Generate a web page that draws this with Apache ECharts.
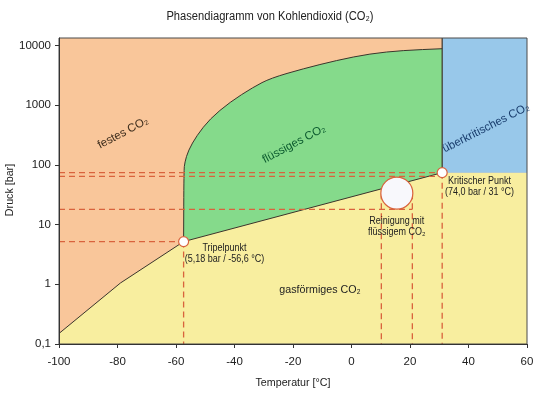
<!DOCTYPE html>
<html><head><meta charset="utf-8">
<script src="https://cdn.jsdelivr.net/npm/echarts@6/dist/echarts.min.js"></script>
<style>html,body{margin:0;padding:0;background:#fff}#c{width:540px;height:393px}</style>
</head><body><div id="c"></div>
<script>
// ---- axes ----
const xMin = -100, xMax = 60, xStep = 20;
const yMin = 0.1, yMax = 13300;

// ---- phase boundaries (temperature °C, pressure bar) ----
const sublT = [-100, -79, -57.4];
const sublP = [0.15, 1.05, 5.18];
const vapT = [-57.4, 31];
const vapP = [5.18, 74];
const meltT = [-57.4, -57.3, -57.0, -55.8, -52.9, -48.4, -41.6, -33.6, -27.6, -16.5, -5.1, 6.3, 17.6, 31];
const meltP = [5.18, 80, 110, 174, 309, 590, 1120, 2000, 2830, 4070, 5610, 7260, 8250, 8800];
const tripleT = -57.4, tripleP = 5.18;
const critT = 31, critP = 74;

// ---- cleaning range and reference lines ----
const cleanT = [10.2, 20.8];
const cleanCenterT = 15.5, cleanCenterP = 33.5;
const hLevels = [74, 64, 18];
const hEnds = [31, 31, 20.8];

const FONT = '"Liberation Sans", Arial, sans-serif';
const C_SOLID = '#F9C69A', C_LIQ = '#85DA8B', C_GAS = '#F8EE9F', C_SUP = '#98C8EA';
const C_DASH = '#D9633D', C_LINE = '#3b352c';

function zip(a, b) { return a.map((v, i) => [v, b[i]]); }
function mid(a, b) { return [(a[0] + b[0]) / 2, (a[1] + b[1]) / 2]; }
function smoothD(px) {
  let d = 'M' + px[0][0] + ',' + px[0][1];
  let m = mid(px[0], px[1]);
  d += ' L' + m[0] + ',' + m[1];
  for (let i = 1; i < px.length - 1; i++) {
    const m2 = mid(px[i], px[i + 1]);
    d += ' Q' + px[i][0] + ',' + px[i][1] + ' ' + m2[0] + ',' + m2[1];
  }
  const l = px[px.length - 1];
  d += ' L' + l[0] + ',' + l[1];
  return d;
}

function renderRegions(params, api) {
  const c = p => api.coord(p);
  const children = [];
  children.push({type: 'polygon', shape: {points: [[xMin, yMin], [xMax, yMin], [xMax, yMax], [xMin, yMax]].map(c)}, style: {fill: C_SOLID}});
  const gas = zip(sublT, sublP).concat([[critT, critP], [xMax, critP], [xMax, yMin], [xMin, yMin]]);
  children.push({type: 'polygon', shape: {points: gas.map(c)}, style: {fill: C_GAS}});
  children.push({type: 'polygon', shape: {points: [[critT, critP], [xMax, critP], [xMax, yMax], [critT, yMax]].map(c)}, style: {fill: C_SUP}});
  const meltPx = zip(meltT, meltP).map(c);
  const cp = c([critT, critP]);
  const liqD = smoothD(meltPx) + ' L' + cp[0] + ',' + cp[1] + ' Z';
  children.push({type: 'path', shape: {pathData: liqD}, style: {fill: C_LIQ}});
  children.push({type: 'polyline', shape: {points: zip(sublT, sublP).map(c)}, style: {stroke: C_LINE, lineWidth: 1, fill: null}});
  children.push({type: 'polyline', shape: {points: zip(vapT, vapP).map(c)}, style: {stroke: C_LINE, lineWidth: 1, fill: null}});
  children.push({type: 'path', shape: {pathData: smoothD(meltPx)}, style: {stroke: C_LINE, lineWidth: 1, fill: null}});
  const a = c([critT, critP]), b = c([critT, yMax]);
  children.push({type: 'line', shape: {x1: a[0], y1: a[1], x2: b[0], y2: b[1]}, style: {stroke: C_LINE, lineWidth: 1.2}});
  const segs = [];
  hLevels.forEach((p, i) => segs.push([[xMin, p], [hEnds[i], p]]));
  segs.push([[xMin, tripleP], [tripleT, tripleP]]);
  segs.push([[tripleT, tripleP], [tripleT, yMin]]);
  cleanT.forEach(t => segs.push([[t, cleanCenterP], [t, yMin]]));
  segs.push([[critT, critP], [critT, yMin]]);
  segs.forEach(s => {
    const p1 = c(s[0]), p2 = c(s[1]);
    children.push({type: 'line', shape: {x1: p1[0], y1: p1[1], x2: p2[0], y2: p2[1]}, style: {stroke: C_DASH, lineWidth: 1.3, lineDash: [6, 4]}});
  });
  const tl = c([xMin, yMax]), br = c([xMax, yMin]);
  children.push({type: 'rect', shape: {x: tl[0], y: tl[1], width: br[0] - tl[0], height: br[1] - tl[1]}, style: {stroke: '#4a4a4a', lineWidth: 1, fill: null}});
  return {type: 'group', children};
}

function txt(text, x, y, size, color, rot, sx) {
  return {type: 'text', x, y, z: 100, rotation: (rot || 0) * Math.PI / 180, scaleX: sx || 1,
    style: {text, fontSize: size, fontFamily: FONT, fill: color, align: 'center', verticalAlign: 'middle'}};
}

const chart = echarts.init(document.getElementById('c'));
chart.setOption({
  animation: false,
  grid: {left: 59, right: 13, top: 38, bottom: 49},
  xAxis: {
    type: 'value', min: xMin, max: xMax, interval: xStep, z: 10,
    axisLine: {show: true, onZero: false, lineStyle: {color: '#333', width: 1}},
    axisTick: {show: true, length: 4, lineStyle: {color: '#333'}},
    axisLabel: {fontSize: 11.5, color: '#222', margin: 12, fontFamily: FONT},
    splitLine: {show: false}
  },
  yAxis: {
    type: 'log', logBase: 10, min: yMin, max: yMax, z: 10,
    axisLine: {show: true, onZero: false, lineStyle: {color: '#333', width: 1}},
    axisTick: {show: true, length: 4, lineStyle: {color: '#333'}},
    axisLabel: {fontSize: 11.5, color: '#222', margin: 8, fontFamily: FONT, showMaxLabel: false,
      formatter: v => String(+v.toPrecision(6)).replace('.', ',')},
    splitLine: {show: false}
  },
  series: [
    {type: 'custom', coordinateSystem: 'cartesian2d', data: [[-50, 1]], renderItem: renderRegions, silent: true, z: 2},
    {type: 'scatter', z: 5, symbol: 'circle', symbolSize: 32, data: [[cleanCenterT, cleanCenterP]],
      itemStyle: {color: '#f8f8fc', borderColor: C_DASH, borderWidth: 1.2, opacity: 1}},
    {type: 'scatter', z: 5, symbol: 'circle', symbolSize: 10, data: [[tripleT, tripleP], [critT, critP]],
      itemStyle: {color: '#ffffff', borderColor: C_DASH, borderWidth: 1.2, opacity: 1}}
  ],
  graphic: [
    txt('Phasendiagramm von Kohlendioxid (CO₂)', 270, 17, 12, '#222', 0, 0.93),
    txt('Temperatur [°C]', 293, 383, 11.5, '#222', 0, 0.93),
    txt('Druck [bar]', 10, 190, 11.5, '#222', 90, 0.93),
    txt('festes CO₂', 123, 133, 11.5, '#3a2a1a', 28),
    txt('flüssiges CO₂', 294, 144, 11.5, '#0b5a2e', 28),
    txt('überkritisches CO₂', 486, 128, 11.5, '#1a3e6e', 27),
    txt('gasförmiges CO₂', 320, 290, 11.5, '#222', 0, 0.93),
    txt('Tripelpunkt', 224.5, 248, 10, '#222', 0, 0.9),
    txt('(5,18 bar / -56,6 °C)', 224.5, 259.5, 10, '#222', 0, 0.9),
    txt('Kritischer Punkt', 479.5, 181.5, 10, '#222', 0, 0.9),
    txt('(74,0 bar / 31 °C)', 479.5, 192.5, 10, '#222', 0, 0.9),
    txt('Reinigung mit', 396.7, 221, 10, '#222', 0, 0.9),
    txt('flüssigem CO₂', 396.7, 232, 10, '#222', 0, 0.9)
  ]
});
</script></body></html>
